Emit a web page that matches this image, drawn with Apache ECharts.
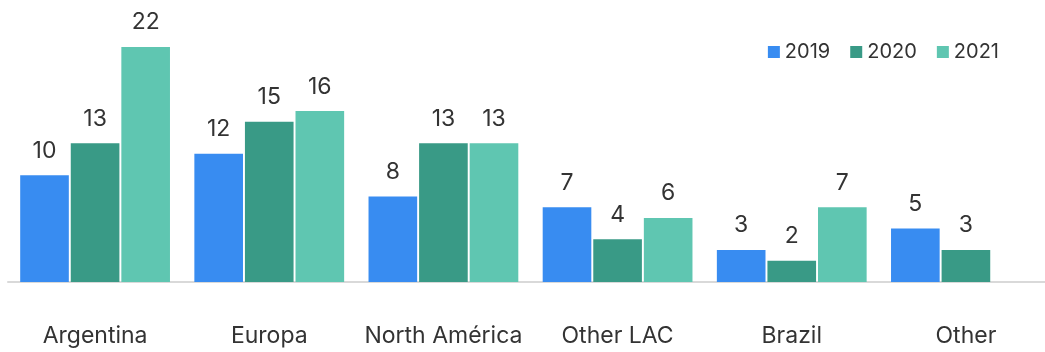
<!DOCTYPE html>
<html>
<head>
<meta charset="utf-8">
<script src="https://cdn.jsdelivr.net/npm/echarts@6/dist/echarts.min.js"></script>
<style>
  html, body { margin: 0; padding: 0; background: #fff; overflow: hidden; }
  /* el grid se sale un poco por la derecha, igual que el original */
  #chart { width: 1061px; height: 352px; }
</style>
</head>
<body>
<div id="chart"></div>
<script>
// categorias y valores por año
var categories = ['Argentina', 'Europa', 'North América', 'Other LAC', 'Brazil', 'Other']
var values2019 = [10, 12, 8, 7, 3, 5]
var values2020 = [13, 15, 13, 4, 2, 3]
var values2021 = [22, 16, 13, 6, 7, null]
var seriesNames = ['2019', '2020', '2021']
var colors = ['#388cf1', '#399a86', '#5fc6b1']

var chart = echarts.init(document.getElementById('chart'))

function makeSeries(name, data, color) {
  return {
    name: name,
    type: 'bar',
    data: data,
    itemStyle: { color: color },
    barGap: '4%',
    barCategoryGap: '14%',
    label: {
      show: true,
      position: 'top',
      distance: 13,
      color: '#333',
      fontSize: 23,
      fontFamily: 'Inter'
    }
  }
}

chart.setOption({
  animation: false,
  textStyle: { fontFamily: 'Inter' },
  legend: {
    data: seriesNames,
    right: 57,
    top: 37,
    itemWidth: 12,
    itemHeight: 12,
    itemGap: 20,
    icon: 'rect',
    textStyle: { color: '#333', fontSize: 20, fontFamily: 'Inter' }
  },
  grid: {
    left: 8,
    width: 1045,
    top: 15,
    height: 267,
    containLabel: false
  },
  xAxis: {
    type: 'category',
    data: categories,
    axisLine: { lineStyle: { color: '#d9d9d9', width: 2 } },
    axisTick: { show: false },
    axisLabel: {
      interval: 0,
      color: '#333',
      fontSize: 23,
      margin: 43,
      fontFamily: 'Inter'
    }
  },
  yAxis: {
    type: 'value',
    min: 0,
    max: 25,
    show: false,
    splitLine: { show: false }
  },
  series: [
    makeSeries(seriesNames[0], values2019, colors[0]),
    makeSeries(seriesNames[1], values2020, colors[1]),
    makeSeries(seriesNames[2], values2021, colors[2])
  ]
})
</script>
</body>
</html>
